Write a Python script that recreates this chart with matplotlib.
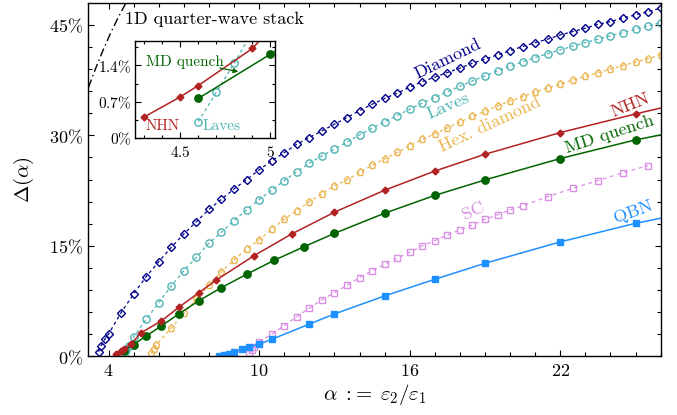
import matplotlib
matplotlib.use("Agg")
import matplotlib.pyplot as plt
from matplotlib.ticker import MultipleLocator, FixedLocator, FuncFormatter

plt.rcParams['font.family'] = 'serif'
plt.rcParams['font.serif'] = ['cmr10']
plt.rcParams['mathtext.fontset'] = 'cm'
plt.rcParams['axes.formatter.use_mathtext'] = True
plt.rcParams['font.size'] = 13

# gap width (%) vs dielectric contrast alpha
alpha_1d = [3.2, 3.5, 3.8, 4.1, 4.4, 4.7]
delta_1d = [36.5, 39.2, 41.7, 44.0, 46.1, 48.0]

alpha_diamond = [3.6, 3.7, 3.85, 4.0, 4.5, 5.0, 5.5, 6.0, 6.5, 7.0, 7.5, 8.0, 8.5, 9.0,
                 9.5, 10.0, 10.5, 11.0, 11.5, 12.0, 12.5, 13.0, 13.5, 14.0, 14.5, 15.0,
                 15.5, 16.0, 16.5, 17.0, 17.5, 18.0, 18.5, 19.0, 19.5, 20.0, 20.5, 21.0,
                 21.5, 22.0, 22.5, 23.0, 23.5, 24.0, 24.5, 25.0, 25.5, 26.0]
delta_diamond = [0.65, 1.42, 2.33, 3.05, 5.94, 8.48, 10.83, 12.86, 14.82, 16.62, 18.29,
                 19.95, 21.33, 22.73, 23.99, 25.31, 26.53, 27.65, 28.79, 29.69, 30.60,
                 31.51, 32.40, 33.35, 34.2, 35.0, 35.71, 36.53, 37.29, 37.88, 38.51,
                 39.10, 39.78, 40.33, 40.91, 41.49, 42.04, 42.58, 43.04, 43.62, 44.07,
                 44.53, 45.05, 45.43, 45.89, 46.34, 46.78, 47.25]

alpha_laves = [4.6, 4.7, 4.8, 5.0, 5.5, 6.0, 6.5, 7.0, 7.5, 8.0, 8.5, 9.0, 9.5, 10.0,
               10.5, 11.0, 11.5, 12.0, 12.5, 13.0, 13.5, 14.0, 14.5, 15.0, 15.5, 16.0,
               16.5, 17.0, 17.5, 18.0, 18.5, 19.0, 19.5, 20.0, 20.5, 21.0, 21.5, 22.0,
               22.5, 23.0, 23.5, 24.0, 24.5, 25.0, 25.5, 26.0]
delta_laves = [0.31, 0.88, 1.45, 2.66, 5.05, 7.30, 9.57, 11.64, 13.46, 15.36, 16.85,
               18.43, 19.85, 21.28, 22.55, 23.85, 25.07, 26.21, 27.20, 28.15, 29.06,
               30.05, 30.96, 31.82, 32.67, 33.54, 34.36, 35.12, 35.89, 36.66, 37.38,
               38.06, 38.74, 39.38, 39.96, 40.54, 41.09, 41.59, 42.09, 42.58, 43.04,
               43.49, 43.93, 44.40, 44.84, 45.29]

alpha_hex = [5.7, 5.8, 5.9, 6.5, 7.0, 7.5, 8.0, 8.5, 9.0, 9.5, 10.0, 10.5, 11.0, 11.5,
             12.0, 12.5, 13.0, 13.5, 14.0, 14.5, 15.0, 15.5, 16.0, 16.5, 17.0, 17.5,
             18.0, 18.5, 19.0, 19.5, 20.0, 20.5, 21.0, 21.5, 22.0, 22.5, 23.0, 23.5,
             24.0, 24.5, 25.0, 25.5, 26.0]
delta_hex = [0.43, 0.98, 1.56, 3.85, 5.86, 7.75, 9.70, 11.51, 13.09, 14.59, 15.81,
             17.26, 18.62, 19.78, 21.0, 22.05, 23.18, 23.95, 24.98, 25.92, 26.80, 27.68,
             28.58, 29.43, 30.22, 31.01, 31.81, 32.56, 33.27, 33.98, 34.64, 35.25,
             35.86, 36.44, 36.97, 37.49, 38.01, 38.50, 38.98, 39.45, 39.94, 40.41, 40.89]

alpha_nhn = [4.3, 4.5, 4.6, 4.9, 5.3, 6.1, 6.8, 7.6, 8.3, 9.8, 11.3, 13.0, 15.0, 17.0,
             19.0, 22.0, 25.0, 26.0]
delta_nhn = [0.40, 0.79, 1.01, 1.73, 3.23, 4.82, 6.67, 8.66, 10.38, 13.68, 16.62, 19.57,
             22.55, 25.15, 27.43, 30.37, 32.9, 33.7]

alpha_md = [4.6, 5.0, 5.5, 6.1, 6.8, 7.6, 8.5, 9.5, 10.6, 11.8, 13.0, 15.0, 17.0, 19.0,
            22.0, 25.0, 26.0]
delta_md = [0.76, 1.62, 2.78, 4.14, 5.77, 7.57, 9.34, 11.15, 13.05, 14.9, 16.7, 19.43,
            21.85, 23.95, 26.85, 29.38, 30.05]

alpha_sc = [9.6, 9.7, 9.8, 10.0, 10.5, 11.0, 11.5, 12.0, 12.5, 13.0, 13.5, 14.0, 14.5,
            15.0, 15.5, 16.0, 16.5, 17.0, 17.5, 18.0, 18.5, 19.0, 19.5, 20.0, 20.5,
            21.5, 22.5, 23.5, 24.5, 25.5]
delta_sc = [0.45, 0.9, 1.35, 2.0, 3.0, 4.2, 5.4, 6.54, 7.7, 8.66, 9.65, 10.7, 11.6,
            12.51, 13.32, 14.14, 15.0, 15.71, 16.49, 17.16, 17.84, 18.6, 19.2, 19.88,
            20.42, 21.68, 22.82, 23.85, 24.94, 25.89]

alpha_qbn = [8.4, 8.6, 8.8, 9.0, 9.3, 9.6, 10.0, 10.5, 12.0, 13.0, 15.0, 17.0, 19.0,
             22.0, 25.0, 26.0]
delta_qbn = [0.0, 0.2, 0.4, 0.57, 0.98, 1.3, 1.68, 2.33, 4.39, 5.77, 8.21, 10.47, 12.64,
             15.54, 18.07, 18.75]

x_ticks = [4, 10, 16, 22]

c_diamond = '#00008B'
c_laves = '#4FB3B3'
c_hex = '#EBB550'
c_nhn = '#B22222'
c_md = '#006400'
c_sc = '#D98FE3'
c_qbn = '#1E90FF'


def draw_series(ax):
    ax.plot(alpha_1d, delta_1d, color='k', lw=1.0, ls=(0, (6, 2.5, 1, 2.5)))
    ax.plot(alpha_diamond, delta_diamond, color=c_diamond, lw=0.9, ls=(0, (2.5, 2.5)),
            marker='D', ms=3.8, mfc='none', mew=1.0)
    ax.plot(alpha_laves, delta_laves, color=c_laves, lw=0.9, ls=(0, (2.5, 2.5)),
            marker='o', ms=5.2, mfc='none', mew=1.0)
    ax.plot(alpha_hex, delta_hex, color=c_hex, lw=0.9, ls=(0, (2.5, 2.5)),
            marker='p', ms=5.2, mfc='none', mew=1.0)
    ax.plot(alpha_sc, delta_sc, color=c_sc, lw=0.9, ls=(0, (3, 3)),
            marker='s', ms=4.8, mfc='none', mew=1.0)
    ax.plot(alpha_qbn, delta_qbn, color=c_qbn, lw=1.1, marker='s', ms=5.0,
            markevery=list(range(len(alpha_qbn) - 1)))
    ax.plot(alpha_md, delta_md, color=c_md, lw=1.1, marker='o', ms=5.3,
            markevery=list(range(len(alpha_md) - 1)))
    ax.plot(alpha_nhn, delta_nhn, color=c_nhn, lw=1.1, marker='D', ms=3.5,
            markevery=list(range(len(alpha_nhn) - 1)))


def pct(v, pos):
    return '$%s\\%%$' % ('%g' % round(v, 2))


fig = plt.figure(figsize=(6.77, 4.15), dpi=100)
ax = fig.add_axes([0.1307, 0.1410, 0.8452, 0.8510])
draw_series(ax)
ax.set_xlim(3.2, 26.0)
ax.set_ylim(0, 47.9)
ax.xaxis.set_major_locator(FixedLocator(x_ticks))
ax.xaxis.set_minor_locator(MultipleLocator(1))
ax.yaxis.set_major_locator(MultipleLocator(15))
ax.yaxis.set_minor_locator(MultipleLocator(3))
ax.xaxis.set_major_formatter(FuncFormatter(lambda v, p: '$%g$' % v))
ax.yaxis.set_major_formatter(FuncFormatter(pct))
ax.tick_params(which='both', direction='in', top=True, right=True, width=0.8)
ax.tick_params(which='major', length=4.5)
ax.tick_params(which='minor', length=2.8)
ax.tick_params(axis='x', pad=5)
ax.tick_params(axis='y', pad=4)
for sp in ax.spines.values():
    sp.set_linewidth(1.0)
ax.set_xlabel(r'$\alpha\;{:}\!=\;\varepsilon_2/\varepsilon_1$', fontsize=15)
ax.set_ylabel(r'$\Delta(\alpha)$', fontsize=15)
ax.xaxis.set_label_coords(0.5, -0.072)
ax.yaxis.set_label_coords(-0.092, 0.5)

ax.text(4.67, 45.7, '1D quarter-wave stack', ha='left', va='center')
ax.text(17.53, 40.4, 'Diamond', color=c_diamond, rotation=26, ha='center', va='center')
ax.text(17.53, 34.0, 'Laves', color=c_laves, rotation=23, ha='center', va='center')
ax.text(19.2, 31.4, 'Hex. diamond', color=c_hex, rotation=25, ha='center', va='center')
ax.text(24.8, 34.1, 'NHN', color=c_nhn, rotation=22, ha='center', va='center')
ax.text(23.95, 30.1, 'MD quench', color=c_md, rotation=18, ha='center', va='center')
ax.text(18.53, 19.7, 'SC', color=c_sc, rotation=25, ha='center', va='center')
ax.text(24.9, 19.6, 'QBN', color=c_qbn, rotation=20, ha='center', va='center')

# inset: zoom on the gap opening
axin = fig.add_axes([0.1994, 0.6682, 0.2068, 0.2337])
draw_series(axin)
axin.set_xlim(4.25, 5.025)
axin.set_ylim(0, 1.88)
axin.xaxis.set_major_locator(MultipleLocator(0.5))
axin.xaxis.set_minor_locator(MultipleLocator(0.1))
axin.yaxis.set_major_locator(MultipleLocator(0.7))
axin.yaxis.set_minor_locator(MultipleLocator(0.35))
axin.xaxis.set_major_formatter(FuncFormatter(lambda v, p: '$%g$' % round(v, 2)))
axin.yaxis.set_major_formatter(FuncFormatter(pct))
axin.tick_params(which='both', direction='in', top=True, right=True, width=0.8,
                 labelsize=11)
axin.tick_params(which='major', length=4)
axin.tick_params(which='minor', length=2.5)
axin.tick_params(axis='x', pad=5)
axin.tick_params(axis='y', pad=2.5)
for sp in axin.spines.values():
    sp.set_linewidth(1.0)
axin.text(4.31, 1.47, 'MD quench', color=c_md, fontsize=11, ha='left', va='center')
axin.text(4.31, 0.225, 'NHN', color=c_nhn, fontsize=11, ha='left', va='center')
axin.text(4.626, 0.225, 'Laves', color=c_laves, fontsize=11, ha='left', va='center')
axin.annotate('', xy=(4.822, 1.28), xytext=(4.72, 1.35),
              arrowprops=dict(arrowstyle='-|>', color=c_md, lw=0.9,
                              mutation_scale=7, shrinkA=0, shrinkB=0))

fig.savefig('out.png', dpi=100)
